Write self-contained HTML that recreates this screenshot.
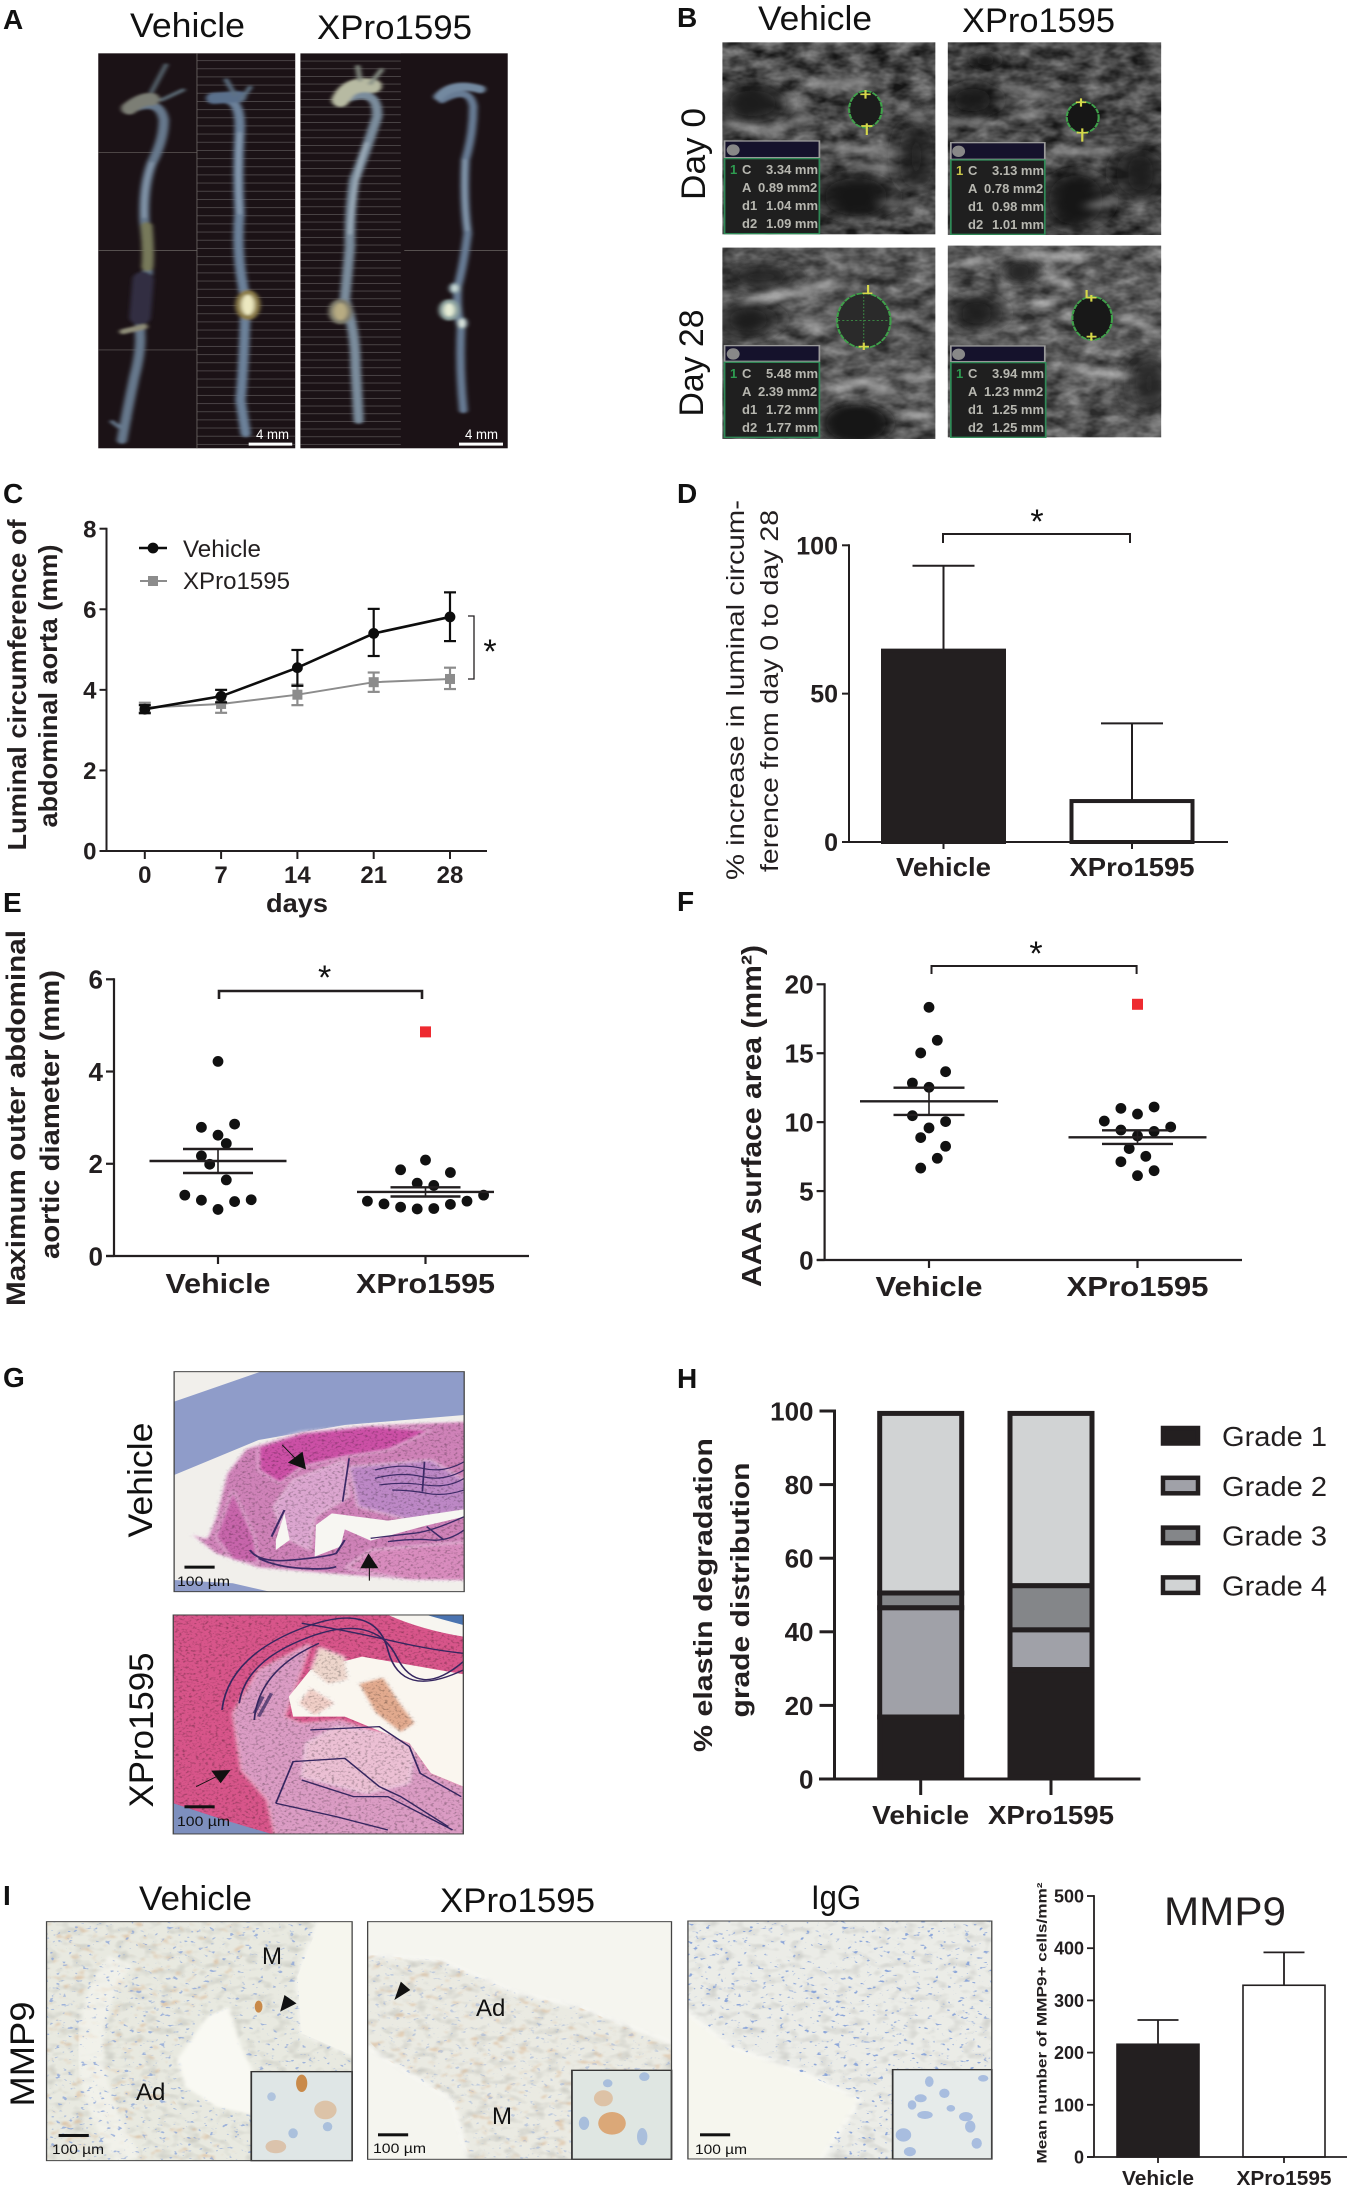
<!DOCTYPE html>
<html lang="en">
<head>
<meta charset="utf-8">
<title>XPro1595 aortic aneurysm figure</title>
<style>
html,body{margin:0;padding:0;background:#fff;}
svg{display:block;font-family:"Liberation Sans",sans-serif;}
.pl{font-weight:bold;font-size:28px;fill:#111;}
.ttl{font-size:34px;fill:#111;}
.sb{font-size:14px;fill:#111;}
.sbw{font-size:14px;fill:#fff;}
.ib{font-size:13px;font-weight:bold;fill:#b7b7b0;}
.mk{font-size:24px;fill:#111;}
</style>
</head>
<body>
<svg id="fig" xmlns="http://www.w3.org/2000/svg" width="1350" height="2187" viewBox="0 0 1350 2187">
<defs>
<filter id="blur1" x="-30%" y="-10%" width="160%" height="120%"><feGaussianBlur stdDeviation="5 3"/></filter>
<filter id="blur2" x="-60%" y="-60%" width="220%" height="220%"><feGaussianBlur stdDeviation="16 10"/></filter>
<filter id="blur3" x="-60%" y="-60%" width="220%" height="220%"><feGaussianBlur stdDeviation="28 20"/></filter>
<filter id="us" color-interpolation-filters="sRGB" x="0" y="0" width="100%" height="100%">
<feTurbulence type="fractalNoise" baseFrequency=".02 .028" numOctaves="3" seed="4"/>
<feColorMatrix values="1.05 0 0 0 -.2 1.05 0 0 0 -.2 1.05 0 0 0 -.2 0 0 0 0 1"/>
<feComposite in2="SourceAlpha" operator="in"/>
</filter>
<filter id="mottle" color-interpolation-filters="sRGB" x="-5%" y="-5%" width="110%" height="110%">
<feGaussianBlur in="SourceGraphic" stdDeviation="5" result="b"/>
<feTurbulence type="fractalNoise" baseFrequency=".13 .16" numOctaves="2" seed="9" result="n"/>
<feColorMatrix in="n" values=".9 0 0 0 .55 .9 0 0 0 .55 .9 0 0 0 .55 0 0 0 0 1" result="g"/>
<feBlend in="b" in2="g" mode="multiply" result="m"/>
<feComposite in="m" in2="b" operator="in"/>
</filter>
<filter id="paper" color-interpolation-filters="sRGB" x="-5%" y="-5%" width="110%" height="110%">
<feGaussianBlur in="SourceGraphic" stdDeviation="7" result="b"/>
<feTurbulence type="fractalNoise" baseFrequency=".03 .04" numOctaves="2" seed="12" result="n"/>
<feColorMatrix in="n" values=".3 0 0 0 .85 .3 0 0 0 .85 .3 0 0 0 .85 0 0 0 0 1" result="g"/>
<feBlend in="b" in2="g" mode="multiply" result="m"/>
<feComposite in="m" in2="b" operator="in"/>
</filter>
<filter id="cellsBlue" color-interpolation-filters="sRGB" x="0" y="0" width="100%" height="100%">
<feTurbulence type="fractalNoise" baseFrequency=".07 .1" numOctaves="2" seed="7"/>
<feColorMatrix values="0 0 0 0 .55 0 0 0 0 .65 0 0 0 0 .85 10 0 0 0 -6.6"/>
<feComposite in2="SourceAlpha" operator="in"/>
</filter>
<filter id="cellsBrown" color-interpolation-filters="sRGB" x="0" y="0" width="100%" height="100%">
<feTurbulence type="fractalNoise" baseFrequency=".035 .05" numOctaves="2" seed="21"/>
<feColorMatrix values="0 0 0 0 .85 0 0 0 0 .7 0 0 0 0 .55 5 0 0 0 -3"/>
<feGaussianBlur stdDeviation="2"/>
<feComposite in2="SourceAlpha" operator="in"/>
</filter>
<pattern id="scanA" patternUnits="userSpaceOnUse" width="100" height="24.5" y="205"><rect width="100" height="2.4" fill="#8d8a8a"/></pattern>
<pattern id="scanB" patternUnits="userSpaceOnUse" width="100" height="23" y="205"><rect width="100" height="2.4" fill="#8d8a8a"/></pattern>
<clipPath id="cB1"><rect x="110" y="127" width="494" height="576"/></clipPath>
<clipPath id="cB2"><rect x="633" y="127" width="495" height="578"/></clipPath>
<clipPath id="cB3"><rect x="110" y="743" width="494" height="574"/></clipPath>
<clipPath id="cB4"><rect x="633" y="737" width="495" height="575"/></clipPath>
<clipPath id="cG1"><rect x="404" y="65" width="673" height="660"/></clipPath>
<clipPath id="cG2"><rect x="402" y="795" width="673" height="657"/></clipPath>
<clipPath id="cI1"><rect x="108" y="185" width="709" height="717"/></clipPath>
<clipPath id="cI2"><rect x="853" y="185" width="705" height="713"/></clipPath>
<clipPath id="cI3"><rect x="30" y="183" width="705" height="714"/></clipPath>
</defs>
<rect width="1350" height="2187" fill="#fff"/>

<!-- Panel letters -->
<text class="pl" x="3" y="29">A</text>
<text class="pl" x="677" y="27">B</text>
<text class="pl" x="3" y="503">C</text>
<text class="pl" x="677" y="503">D</text>
<text class="pl" x="3" y="912">E</text>
<text class="pl" x="677" y="911">F</text>
<text class="pl" x="3" y="1387">G</text>
<text class="pl" x="677" y="1388">H</text>
<text class="pl" x="3" y="1905">I</text>

<!-- Panel A -->
<text class="ttl" x="130" y="37" textLength="115" lengthAdjust="spacingAndGlyphs">Vehicle</text>
<text class="ttl" x="317" y="39" textLength="155" lengthAdjust="spacingAndGlyphs">XPro1595</text>
<g transform="scale(.431,.3333)">
<rect x="228" y="160" width="457" height="1185" fill="#1b1216"/>
<rect x="697" y="160" width="481" height="1185" fill="#1b1216"/>
<rect x="457" y="160" width="228" height="1185" fill="url(#scanA)" opacity=".5"/>
<rect x="697" y="160" width="233" height="1185" fill="url(#scanB)" opacity=".5"/>
<path d="M228,458H457M228,752H457M228,1050H457M938,752H1178M457,160V1345" stroke="#6a6462" stroke-width="2" fill="none"/>
<g fill="none" stroke-linecap="round" stroke-linejoin="round" filter="url(#blur1)">
<path d="M320,320 Q372,300 380,360 Q380,420 352,490 Q332,560 335,660 Q345,760 342,830 Q325,920 325,1000 Q328,1050 312,1130 Q297,1220 283,1320" stroke="#66788c" stroke-width="24"/>
<path d="M352,490 Q332,560 335,650" stroke="#8a9cb0" stroke-width="8"/>
<path d="M340,680 Q345,760 342,800" stroke="#77795a" stroke-width="28"/>
<path d="M332,840 L325,950" stroke="#322d42" stroke-width="50"/>
<path d="M285,995 L335,980" stroke="#8e8c78" stroke-width="16"/>
<path d="M300,325 Q330,295 352,298" stroke="#7c7e74" stroke-width="38"/>
<path d="M352,275 L385,195 M375,300 L425,270" stroke="#5c6a74" stroke-width="10"/>
<path d="M260,1265 L285,1290 L300,1255" stroke="#66788c" stroke-width="10"/>
<path d="M530,300 Q560,310 556,400 Q550,520 556,640 Q546,760 570,900 Q566,1100 558,1200 L570,1300" stroke="#6c819a" stroke-width="24"/>
<path d="M556,400 Q550,520 556,640" stroke="#93a6ba" stroke-width="7"/>
<path d="M495,295 L555,290" stroke="#5a6f8c" stroke-width="34"/>
<path d="M525,240 L545,285 M580,262 L560,300" stroke="#5f7284" stroke-width="11"/>
<ellipse cx="575" cy="915" rx="22" ry="38" fill="#ece8c0" stroke="#8c7d48" stroke-width="14"/>
<path d="M795,300 Q878,255 875,350 Q850,450 822,540 Q810,640 812,740 Q805,830 800,900 Q825,990 825,1100 L832,1260" stroke="#7a8c9c" stroke-width="24"/>
<path d="M850,430 Q820,540 812,700" stroke="#a8b8c4" stroke-width="7"/>
<path d="M790,300 Q810,245 865,258" stroke="#b7baa2" stroke-width="42"/>
<path d="M830,200 L835,240 M885,210 L860,250" stroke="#889086" stroke-width="11"/>
<ellipse cx="790" cy="935" rx="22" ry="32" fill="#b8ac82" stroke="#7e7c6c" stroke-width="12"/>
<path d="M1025,300 Q1090,255 1098,320 Q1098,400 1080,480 Q1075,600 1085,700 Q1075,800 1062,860 Q1058,930 1070,980 Q1065,1100 1075,1230" stroke="#677c94" stroke-width="20"/>
<path d="M1078,480 Q1075,600 1085,690" stroke="#92a6b8" stroke-width="6"/>
<path d="M1018,290 Q1050,245 1115,268" stroke="#7389a0" stroke-width="24"/>
<ellipse cx="1042" cy="930" rx="18" ry="26" fill="#e6edd6" stroke="#8ea4a0" stroke-width="12"/>
<ellipse cx="1055" cy="865" rx="10" ry="14" fill="#cfe0dc" stroke="#8298a2" stroke-width="7"/>
<ellipse cx="1072" cy="970" rx="10" ry="16" fill="#dfe8e0" stroke="#8298a2" stroke-width="6"/>
</g>
<rect x="577" y="1328" width="101" height="9" fill="#fff"/>
<rect x="1065" y="1328" width="102" height="9" fill="#fff"/>
</g>
<text class="sbw" x="256" y="439" textLength="33" lengthAdjust="spacingAndGlyphs">4 mm</text>
<text class="sbw" x="465" y="439" textLength="33" lengthAdjust="spacingAndGlyphs">4 mm</text>

<!-- Panel B -->
<text class="ttl" x="758" y="30" textLength="114" lengthAdjust="spacingAndGlyphs">Vehicle</text>
<text class="ttl" x="962" y="32" textLength="153" lengthAdjust="spacingAndGlyphs">XPro1595</text>
<text class="ttl" transform="translate(705,154) rotate(-90)" text-anchor="middle" textLength="92" lengthAdjust="spacingAndGlyphs">Day 0</text>
<text class="ttl" transform="translate(703,363) rotate(-90)" text-anchor="middle" textLength="107" lengthAdjust="spacingAndGlyphs">Day 28</text>
<g transform="translate(675,0) scale(.431,.3333)">
<rect x="110" y="127" width="494" height="576" fill="#000" filter="url(#us)"/>
<rect x="633" y="127" width="495" height="578" fill="#000" filter="url(#us)"/>
<rect x="110" y="743" width="494" height="574" fill="#000" filter="url(#us)"/>
<rect x="633" y="737" width="495" height="575" fill="#000" filter="url(#us)"/>
<g clip-path="url(#cB1)">
<rect x="110" y="127" width="494" height="576" fill="#3c3c3c" opacity=".35"/>
<ellipse cx="180" cy="310" rx="80" ry="60" fill="#1c1c1c" filter="url(#blur3)"/>
<ellipse cx="420" cy="590" rx="90" ry="70" fill="#191919" filter="url(#blur3)"/>
<ellipse cx="560" cy="470" rx="40" ry="110" fill="#1e1e1e" filter="url(#blur3)"/>
<path d="M110,370 L230,395 L300,350 M270,280 L300,370 M300,250 L460,250 M360,440 L520,460" stroke="#a4a4a4" stroke-width="22" fill="none" opacity=".8" filter="url(#blur2)"/>
<path d="M400,490 L520,510 M480,610 L560,610 M540,340 L590,370" stroke="#8a8a8a" stroke-width="22" fill="none" opacity=".7" filter="url(#blur2)"/>
<ellipse cx="442" cy="328" rx="38" ry="55" fill="#1c1c1c" stroke="#3fa04a" stroke-width="5" stroke-dasharray="14 3"/>
<path d="M442,270V296M430,283H454M445,370V405M432,378H458" stroke="#d6d84a" stroke-width="5"/>
</g>
<g clip-path="url(#cB2)">
<rect x="633" y="127" width="495" height="578" fill="#3a3a3a" opacity=".4"/>
<ellipse cx="690" cy="300" rx="60" ry="50" fill="#181818" filter="url(#blur3)"/>
<ellipse cx="720" cy="180" rx="30" ry="25" fill="#181818" filter="url(#blur2)"/>
<ellipse cx="930" cy="600" rx="80" ry="90" fill="#191919" filter="url(#blur3)"/>
<ellipse cx="1080" cy="520" rx="55" ry="80" fill="#1b1b1b" filter="url(#blur3)"/>
<path d="M780,265 L890,295 M640,365 L720,365 M880,455 L1020,455 M790,345 L850,345 M960,620 L1030,600" stroke="#a0a0a0" stroke-width="20" fill="none" opacity=".75" filter="url(#blur2)"/>
<ellipse cx="946" cy="352" rx="37" ry="47" fill="#161616" stroke="#3fa04a" stroke-width="5" stroke-dasharray="14 3"/>
<path d="M942,295V320M930,307H954M945,385V425M932,398H958" stroke="#d6d84a" stroke-width="5"/>
</g>
<g clip-path="url(#cB3)">
<rect x="110" y="743" width="494" height="574" fill="#5a5a5a" opacity=".45"/>
<ellipse cx="200" cy="830" rx="80" ry="35" fill="#202020" filter="url(#blur3)"/>
<ellipse cx="170" cy="960" rx="70" ry="55" fill="#1f1f1f" filter="url(#blur3)"/>
<ellipse cx="420" cy="1270" rx="80" ry="60" fill="#161616" filter="url(#blur2)"/>
<path d="M160,900 L280,880 L380,840 M300,940 L340,1000 M380,1170 L430,1140 L500,1180 M520,1125 L570,1135 M530,1245 L590,1250" stroke="#d2d2d2" stroke-width="20" fill="none" opacity=".85" filter="url(#blur2)"/>
<ellipse cx="438" cy="962" rx="62" ry="82" fill="#2a2a2a" stroke="#3fa04a" stroke-width="5" stroke-dasharray="14 3"/>
<path d="M378,962H500M438,880V1040" stroke="#3fa04a" stroke-width="2" stroke-dasharray="5 5"/>
<path d="M448,855V882M435,880H458M438,1028V1050M426,1040H450" stroke="#d6d84a" stroke-width="5"/>
</g>
<g clip-path="url(#cB4)">
<rect x="633" y="737" width="495" height="575" fill="#666" opacity=".42"/>
<ellipse cx="800" cy="815" rx="40" ry="35" fill="#262626" filter="url(#blur2)"/>
<ellipse cx="700" cy="940" rx="60" ry="55" fill="#1f1f1f" filter="url(#blur3)"/>
<ellipse cx="1100" cy="1150" rx="45" ry="90" fill="#262626" filter="url(#blur3)"/>
<path d="M660,795 L720,780 M800,765 L950,770 M860,830 L920,860 M830,915 L880,910 M920,1105 L1040,1130 M1030,940 L1120,1000" stroke="#e0e0e0" stroke-width="16" fill="none" opacity=".85" filter="url(#blur2)"/>
<ellipse cx="968" cy="955" rx="46" ry="65" fill="#181818" stroke="#3fa04a" stroke-width="5" stroke-dasharray="14 3"/>
<path d="M955,870V895M966,885V905M955,893H978M966,998V1022M955,1010H978" stroke="#d6d84a" stroke-width="5"/>
</g>
<!-- info boxes -->
<g stroke-width="4">
<rect x="115" y="423" width="220" height="50" fill="#15122c" stroke="#9a9a9a"/>
<rect x="115" y="476" width="220" height="225" fill="#1f1f1f" stroke="#2f8a57"/>
<ellipse cx="135" cy="450" rx="15" ry="17" fill="#888" stroke="none"/>
<rect x="640" y="428" width="218" height="50" fill="#15122c" stroke="#9a9a9a"/>
<rect x="640" y="480" width="218" height="223" fill="#1f1f1f" stroke="#2f8a57"/>
<ellipse cx="658" cy="454" rx="15" ry="17" fill="#888" stroke="none"/>
<rect x="115" y="1037" width="220" height="47" fill="#15122c" stroke="#9a9a9a"/>
<rect x="115" y="1087" width="220" height="225" fill="#1f1f1f" stroke="#2f8a57"/>
<ellipse cx="135" cy="1062" rx="15" ry="17" fill="#888" stroke="none"/>
<rect x="640" y="1038" width="218" height="47" fill="#15122c" stroke="#9a9a9a"/>
<rect x="640" y="1088" width="220" height="224" fill="#1f1f1f" stroke="#2f8a57"/>
<ellipse cx="658" cy="1063" rx="15" ry="17" fill="#888" stroke="none"/>
</g>
</g>
<g>
<text class="ib" x="730" y="174" style="fill:#2e9b50">1</text>
<text class="ib" y="174"><tspan x="742">C</tspan><tspan x="766">3.34 mm</tspan></text>
<text class="ib" y="192"><tspan x="742">A</tspan><tspan x="758">0.89 mm2</tspan></text>
<text class="ib" y="210"><tspan x="742">d1</tspan><tspan x="766">1.04 mm</tspan></text>
<text class="ib" y="228"><tspan x="742">d2</tspan><tspan x="766">1.09 mm</tspan></text>
</g>
<g>
<text class="ib" x="956" y="175" style="fill:#c9c64a">1</text>
<text class="ib" y="175"><tspan x="968">C</tspan><tspan x="992">3.13 mm</tspan></text>
<text class="ib" y="193"><tspan x="968">A</tspan><tspan x="984">0.78 mm2</tspan></text>
<text class="ib" y="211"><tspan x="968">d1</tspan><tspan x="992">0.98 mm</tspan></text>
<text class="ib" y="229"><tspan x="968">d2</tspan><tspan x="992">1.01 mm</tspan></text>
</g>
<g>
<text class="ib" x="730" y="378" style="fill:#2e9b50">1</text>
<text class="ib" y="378"><tspan x="742">C</tspan><tspan x="766">5.48 mm</tspan></text>
<text class="ib" y="396"><tspan x="742">A</tspan><tspan x="758">2.39 mm2</tspan></text>
<text class="ib" y="414"><tspan x="742">d1</tspan><tspan x="766">1.72 mm</tspan></text>
<text class="ib" y="432"><tspan x="742">d2</tspan><tspan x="766">1.77 mm</tspan></text>
</g>
<g>
<text class="ib" x="956" y="378" style="fill:#2e9b50">1</text>
<text class="ib" y="378"><tspan x="968">C</tspan><tspan x="992">3.94 mm</tspan></text>
<text class="ib" y="396"><tspan x="968">A</tspan><tspan x="984">1.23 mm2</tspan></text>
<text class="ib" y="414"><tspan x="968">d1</tspan><tspan x="992">1.25 mm</tspan></text>
<text class="ib" y="432"><tspan x="968">d2</tspan><tspan x="992">1.25 mm</tspan></text>
</g>

<!-- Panel G -->
<text class="ttl" transform="translate(152,1480) rotate(-90)" text-anchor="middle" textLength="115" lengthAdjust="spacingAndGlyphs">Vehicle</text>
<text class="ttl" transform="translate(153,1730) rotate(-90)" text-anchor="middle" textLength="155" lengthAdjust="spacingAndGlyphs">XPro1595</text>
<g transform="translate(0,1350) scale(.431,.3333)">
<g clip-path="url(#cG1)">
<rect x="404" y="65" width="673" height="660" fill="#f1efeb"/>
<path d="M404,155 L605,65 H1077 V195 L800,225 L600,270 L404,375Z" fill="#8f9cc9"/>
<path d="M404,690 L540,700 L625,725 H404Z" fill="#8f9cc9"/>
<path d="M440,550 L480,565 L500,500 L525,370 L570,295 L700,245 L850,225 L1100,212 V692 L950,690 L760,672 L600,655 L500,612Z" fill="#cf82b8" filter="url(#mottle)"/>
<path d="M600,290 L700,250 L860,228 L1000,240 L900,300 L800,320 L700,350 L650,400 L600,360Z" fill="#cc4ba5" filter="url(#mottle)" opacity=".9"/>
<path d="M500,560 L540,420 L590,560 L600,640 L540,630Z" fill="#c65ea8" filter="url(#mottle)" opacity=".8"/>
<path d="M635,470 L680,390 L800,330 L810,440 L730,500 L720,600 L660,560Z" fill="#dca6d0" filter="url(#mottle)"/>
<path d="M810,350 L1000,330 L1090,400 V480 L950,510 L830,470Z" fill="#bd88c6" filter="url(#mottle)"/>
<path d="M860,600 L1090,575 V692 L950,690 L800,655Z" fill="#d98cbe" filter="url(#mottle)"/>
<path d="M730,620 L733,525 L770,490 L900,512 L1077,478 V500 L985,528 L860,572 L800,538 L790,590Z" fill="#f7f6f2"/>
<path d="M640,570 L660,490 L672,570 L640,600Z" fill="#f7f6f2"/>
<g fill="none" stroke="#3c2a66" stroke-width="3.5">
<path d="M870,360 Q930,340 980,355 T1077,335"/><path d="M870,385 Q930,365 980,380 T1077,360"/><path d="M880,405 Q930,395 985,405 T1077,385"/><path d="M910,420 Q950,420 990,430 T1077,420"/>
<path d="M810,325 L795,455 M985,335 L980,425" stroke-width="4"/>
<path d="M580,600 Q600,640 680,630 T780,610 L800,570 M600,625 Q640,650 700,655 T780,650" stroke-width="5"/>
<path d="M860,565 Q920,555 960,550 T1077,500 M900,575 Q960,565 1000,570 T1077,540 M990,530 L1030,570" stroke-width="4"/>
<path d="M630,560 L660,480" stroke-width="5"/>
</g>
<path d="M655,285 L700,345" stroke="#111" stroke-width="2.5"/><path d="M710,358 L668,338 L702,305Z" fill="#111"/>
<path d="M857,692 V650" stroke="#111" stroke-width="2.5"/><path d="M855,610 L878,655 L836,655Z" fill="#111"/>
<rect x="428" y="647" width="70" height="9" fill="#111"/>
</g>
<rect x="404" y="65" width="673" height="660" fill="none" stroke="#444" stroke-width="3"/>
</g>
<g transform="translate(0,1350) scale(.431,.3333)">
<g clip-path="url(#cG2)">
<rect x="402" y="795" width="673" height="657" fill="#d65085"/>
<rect x="382" y="775" width="713" height="697" fill="#d8558a" filter="url(#mottle)"/>
<path d="M402,1360 L520,1410 L630,1452 H402Z" fill="#7d8fbe"/>
<path d="M900,795 H1075 V860 Q980,840 900,795Z" fill="#f7f5f0"/>
<path d="M990,795 H1075 V825 Q1030,810 990,795Z" fill="#4a73b0"/>
<path d="M540,1090 L600,960 L720,880 L700,960 L660,1100 L700,1120 L790,1110 L950,1180 L1000,1270 L1095,1320 V1470 L640,1470 L620,1350 L560,1260Z" fill="#db9cc4" filter="url(#mottle)"/>
<path d="M840,920 L1085,975 V1315 L1000,1270 L950,1180 L800,1100 L680,1100 L670,1040 L720,960Z" fill="#faf6ef"/>
<path d="M740,890 L800,920 L810,990 L760,1005 L720,960Z" fill="#eed6cc" filter="url(#mottle)"/>
<path d="M830,1000 L890,980 L930,1060 L965,1120 L930,1150 L870,1090Z" fill="#e2aa8e" filter="url(#mottle)"/>
<path d="M720,1010 L780,1060 L730,1100 L690,1060Z" fill="#f0cec6" filter="url(#mottle)"/>
<path d="M710,1180 L780,1130 L900,1150 L960,1200 L950,1300 L850,1330 L700,1280Z" fill="#ecc0d4" filter="url(#mottle)"/>
<g fill="none" stroke="#35265f" stroke-width="4">
<path d="M515,1080 Q530,920 700,835 T900,900 T1075,960"/><path d="M555,1060 Q570,930 720,860 T920,920 T1075,935"/><path d="M590,1110 Q600,960 740,880"/><path d="M700,820 Q800,840 900,870 T1075,910" />
<path d="M640,1360 L680,1235 L800,1225 L880,1310 L930,1340 L1040,1430"/><path d="M640,1360 L780,1400 L900,1440"/><path d="M700,1290 L820,1340 L900,1340 L1050,1440"/>
<path d="M720,1140 L880,1130 L950,1190 L975,1270 L1070,1340"/>
<path d="M590,1090 L610,1040 M600,1100 L630,1030" stroke-width="8" opacity=".7"/>
</g>
<path d="M455,1310 L510,1275" stroke="#111" stroke-width="2.5"/><path d="M535,1260 L512,1300 L490,1262Z" fill="#111"/>
<rect x="428" y="1366" width="70" height="9" fill="#111"/>
</g>
<rect x="402" y="795" width="673" height="657" fill="none" stroke="#444" stroke-width="3"/>
</g>
<text class="sb" x="177" y="1586" textLength="53" lengthAdjust="spacingAndGlyphs">100 µm</text>
<text class="sb" x="177" y="1826" textLength="53" lengthAdjust="spacingAndGlyphs">100 µm</text>

<!-- Panel I -->
<text class="ttl" x="139" y="1910" textLength="113" lengthAdjust="spacingAndGlyphs">Vehicle</text>
<text class="ttl" x="440" y="1912" textLength="155" lengthAdjust="spacingAndGlyphs">XPro1595</text>
<text class="ttl" x="811" y="1909" textLength="50" lengthAdjust="spacingAndGlyphs">IgG</text>
<text class="ttl" transform="translate(34,2054) rotate(-90)" text-anchor="middle" textLength="105" lengthAdjust="spacingAndGlyphs">MMP9</text>
<g transform="translate(0,1860) scale(.431,.3333)">
<rect x="108" y="185" width="709" height="717" fill="#f4f4ec"/>
<g clip-path="url(#cI1)">
<path d="M90,165 H745 L690,350 L700,520 L830,590 V920 H90Z" fill="#e8e9e0" filter="url(#paper)"/>
<path d="M108,185 H600 L520,400 L420,520 L370,660 L440,790 L580,900 H108Z" fill="#000" filter="url(#cellsBrown)" opacity=".55"/>
<path d="M280,300 Q130,560 300,900" stroke="#f6f6f0" stroke-width="62" fill="none" opacity=".65" filter="url(#blur1)"/>
<path d="M108,185 H740 L690,350 L700,520 L817,590 V900 H108Z" fill="#000" filter="url(#cellsBlue)" opacity=".8"/>
<path d="M410,600 L480,470 L530,440 L560,560 L590,640 V765 L500,740 L430,680Z" fill="#f9f9f3" filter="url(#blur1)"/>
<path d="M745,175 H825 V590 L700,520 L690,350Z" fill="#f6f6ee"/>
</g>
<rect x="583" y="635" width="234" height="267" fill="#dfe6e6" stroke="#333" stroke-width="4"/>
<ellipse cx="700" cy="670" rx="13" ry="26" fill="#c98a4a"/>
<ellipse cx="755" cy="750" rx="26" ry="28" fill="#dcc3a8"/>
<ellipse cx="680" cy="820" rx="11" ry="15" fill="#aac0dc"/><ellipse cx="760" cy="800" rx="11" ry="14" fill="#aac0dc"/><ellipse cx="630" cy="710" rx="10" ry="13" fill="#b0c4de"/><ellipse cx="640" cy="860" rx="24" ry="20" fill="#dbc3ac"/>
<path d="M650,455 L660,405 L688,430Z" fill="#111"/>
<ellipse cx="600" cy="440" rx="9" ry="18" fill="#c98a4a"/>
<rect x="136" y="822" width="70" height="9" fill="#111"/>
<rect x="108" y="185" width="709" height="717" fill="none" stroke="#444" stroke-width="3"/>
</g>
<text class="mk" x="262" y="1964">M</text>
<text class="mk" x="136" y="2100">Ad</text>
<text class="sb" x="52" y="2154" textLength="52" lengthAdjust="spacingAndGlyphs">100 µm</text>
<g transform="translate(0,1860) scale(.431,.3333)">
<rect x="853" y="185" width="705" height="713" fill="#f5f5ef"/>
<g clip-path="url(#cI2)">
<path d="M830,285 L1020,300 L1200,400 L1340,440 L1580,560 V920 H1090 L1050,720 L900,600 L830,540Z" fill="#eaeae2" filter="url(#paper)"/>
<path d="M853,285 L1020,300 L1200,400 L1340,440 L1558,560 V900 H1090 L1050,720 L900,600 L853,540Z" fill="#000" filter="url(#cellsBrown)" opacity=".5"/>
<path d="M853,285 L1020,300 L1200,400 L1340,440 L1558,560 V900 H1090 L1050,720 L900,600 L853,540Z" fill="#000" filter="url(#cellsBlue)" opacity=".45"/>
</g>
<rect x="1327" y="631" width="231" height="267" fill="#dfe6e2" stroke="#333" stroke-width="4"/>
<ellipse cx="1420" cy="790" rx="32" ry="34" fill="#dba878"/><ellipse cx="1400" cy="715" rx="22" ry="24" fill="#ddc2a6"/>
<ellipse cx="1355" cy="790" rx="12" ry="20" fill="#a8bedc"/><ellipse cx="1495" cy="650" rx="12" ry="13" fill="#a8bedc"/><ellipse cx="1490" cy="830" rx="12" ry="26" fill="#aabfdc"/><ellipse cx="1410" cy="670" rx="11" ry="12" fill="#a8bedc"/>
<path d="M915,420 L930,365 L952,390Z" fill="#111"/>
<rect x="877" y="820" width="70" height="9" fill="#111"/>
<rect x="853" y="185" width="705" height="713" fill="none" stroke="#444" stroke-width="3"/>
</g>
<text class="mk" x="476" y="2016">Ad</text>
<text class="mk" x="492" y="2124">M</text>
<text class="sb" x="373" y="2153" textLength="53" lengthAdjust="spacingAndGlyphs">100 µm</text>
<g transform="translate(675,1860) scale(.431,.3333)">
<rect x="30" y="183" width="705" height="714" fill="#f6f6ee"/>
<g clip-path="url(#cI3)">
<path d="M10,165 H750 V915 H330 L430,720 L300,640 L130,560 L10,440Z" fill="#ebece7" filter="url(#paper)"/>
<path d="M30,183 H735 V897 H330 L430,720 L300,640 L130,560 L30,440Z" fill="#000" filter="url(#cellsBlue)"/>
</g>
<rect x="505" y="629" width="230" height="268" fill="#e6ebea" stroke="#333" stroke-width="4"/>
<g fill="#a8bddf"><ellipse cx="590" cy="665" rx="10" ry="16"/><ellipse cx="625" cy="700" rx="12" ry="14"/><ellipse cx="570" cy="715" rx="14" ry="12"/><ellipse cx="550" cy="735" rx="10" ry="14"/><ellipse cx="580" cy="765" rx="18" ry="12"/><ellipse cx="675" cy="770" rx="16" ry="14"/><ellipse cx="685" cy="800" rx="12" ry="18"/><ellipse cx="530" cy="825" rx="18" ry="20"/><ellipse cx="700" cy="850" rx="12" ry="16"/><ellipse cx="545" cy="875" rx="14" ry="14"/><ellipse cx="715" cy="655" rx="12" ry="10"/><ellipse cx="640" cy="745" rx="10" ry="10"/></g>
<rect x="58" y="820" width="70" height="9" fill="#111"/>
<rect x="30" y="183" width="705" height="714" fill="none" stroke="#444" stroke-width="3"/>
</g>
<text class="sb" x="695" y="2154" textLength="52" lengthAdjust="spacingAndGlyphs">100 µm</text>

<g id="chart-c"></g>
<g id="chart-d"></g>
<g id="chart-e"></g>
<g id="chart-f"></g>
<g id="chart-h"></g>
<g id="chart-i"></g>
</svg>

<script>
// ---- Chart C data ----
const cDays = [0, 7, 14, 21, 28];
const cYTicks = [0, 2, 4, 6, 8];
const cVehicleMean = [3.52, 3.84, 4.55, 5.40, 5.81];
const cVehicleHigh = [3.62, 4.00, 4.99, 6.01, 6.42];
const cVehicleLow = [3.42, 3.69, 4.10, 4.84, 5.21];
const cXProMean = [3.56, 3.65, 3.88, 4.19, 4.27];
const cXProHigh = [3.68, 3.85, 4.13, 4.43, 4.55];
const cXProLow = [3.44, 3.43, 3.62, 3.95, 4.02];
// ---- Chart D data ----
const dCategories = ['Vehicle', 'XPro1595'];
const dYTicks = [0, 50, 100];
const dMeans = [64.5, 13.8];
const dErrorTops = [93.1, 40];
// ---- Chart E data ----
const eCategories = ['Vehicle', 'XPro1595'];
const eYTicks = [0, 2, 4, 6];
const eVehicleValues = [4.22, 2.79, 2.86, 2.62, 2.44, 2.17, 1.99, 1.65, 1.32, 1.21, 1.18, 1.22, 1.01];
const eVehicleColumns = [0, -1, 1, 0, 0.5, -1, -0.5, 0.5, -2, -1, 1, 2, 0];
const eXProValues = [2.08, 1.87, 1.81, 1.58, 1.53, 1.32, 1.19, 1.13, 1.06, 1.02, 1.03, 1.12, 1.19];
const eXProColumns = [0, -1.5, 1.5, -0.5, 0.5, 3.5, -3.5, -2.5, -1.5, -0.5, 0.5, 1.5, 2.5];
const eOutlier = 4.86;
const eGroupMeans = [2.06, 1.39];
const eSemHigh = [2.32, 1.49];
const eSemLow = [1.80, 1.29];
// ---- Chart F data ----
const fCategories = ['Vehicle', 'XPro1595'];
const fYTicks = [0, 5, 10, 15, 20];
const fVehicleValues = [18.33, 15.94, 15.02, 13.66, 12.84, 12.53, 10.47, 10.04, 9.58, 8.88, 8.25, 7.38, 6.67];
const fVehicleColumns = [0, 0.5, -0.5, 1, -1, 0, -1, 1, 0, -0.5, 1, 0.5, -0.5];
const fXProValues = [11.1, 11.0, 10.59, 10.08, 9.65, 9.43, 9.33, 9.0, 8.08, 7.52, 7.13, 6.48, 6.12];
const fXProColumns = [1, -1, 0, -2, 2, -1, 1, 0, -0.5, 0.5, -1, 1, 0];
const fOutlier = 18.55;
const fGroupMeans = [11.51, 8.9];
const fSemHigh = [12.5, 9.41];
const fSemLow = [10.52, 8.42];
// ---- Chart H data ----
const hCategories = ['Vehicle', 'XPro1595'];
const hYTicks = [0, 20, 40, 60, 80, 100];
const hGrades = ['Grade 1', 'Grade 2', 'Grade 3', 'Grade 4'];
const hVehicleStack = [17.5, 29.7, 4.0, 48.8];
const hXProStack = [30.4, 10.8, 12.0, 46.8];
// ---- Chart I data ----
const iCategories = ['Vehicle', 'XPro1595'];
const iYTicks = [0, 100, 200, 300, 400, 500];
const iMeans = [216, 329];
const iErrorTops = [262.5, 392];

const NS = 'http://www.w3.org/2000/svg';
const INK = '#231f20';
function add(parent, tag, attrs, text) {
  const node = document.createElementNS(NS, tag);
  for (const k in attrs) node.setAttribute(k, attrs[k]);
  if (text !== undefined) node.textContent = text;
  parent.appendChild(node);
  return node;
}
function linear(d0, d1, r0, r1) {
  return v => r0 + (v - d0) * (r1 - r0) / (d1 - d0);
}
function line(g, name, x1, y1, x2, y2, color, sw) {
  const l = add(g, 'line', { x1, y1, x2, y2, stroke: color, 'stroke-width': sw });
  
  
  return l;
}
function label(g, name, x, y, str, size, opts) {
  const o = opts || {};
  const attrs = { x, y, 'font-size': size, 'font-weight': o.weight || 'bold', fill: INK, 'text-anchor': o.anchor || 'middle' };
  if (o.len) { attrs.textLength = o.len; attrs.lengthAdjust = 'spacingAndGlyphs'; }
  const t = add(g, 'text', attrs, str);
  
  
  return t;
}
function vLabel(g, name, x, cy, str, size, len, weight) {
  const t = add(g, 'text', { transform: 'translate(' + x + ',' + cy + ') rotate(-90)', 'font-size': size, 'font-weight': weight || 'bold', fill: INK, 'text-anchor': 'middle', textLength: len, lengthAdjust: 'spacingAndGlyphs' }, str);
  
  
  return t;
}
function yAxis(g, c) {
  const gap = c.gap === undefined ? 3 : c.gap;
  line(g, 'y-axis-line', c.x, c.scale(c.ticks[c.ticks.length - 1]) - c.sw / 2, c.x, c.scale(c.ticks[0]), INK, c.sw);
  c.ticks.forEach(t => {
    line(g, 'y-axis-tick', c.x - c.tick, c.scale(t), c.x, c.scale(t), INK, c.sw);
    label(g, 'y-tick-label', c.x - c.tick - gap, c.scale(t) + c.font * 0.36, String(t), c.font, { anchor: 'end' });
  });
}
function xAxis(g, c) {
  line(g, 'x-axis-line', c.left, c.y, c.right, c.y, INK, c.sw);
  c.positions.forEach((p, i) => {
    line(g, 'x-axis-tick', p, c.y, p, c.y + c.tick, INK, c.sw);
    label(g, 'x-tick-label', p, c.labelY, c.labels[i], c.font, { len: c.widths ? c.widths[i] : undefined });
  });
}
function bars(g, xs, width, means, tops, y, capW, sw, lineW) {
  means.forEach((m, i) => {
    line(g, 'error-bar-stem', xs[i], y(tops[i]), xs[i], y(m), INK, lineW);
    line(g, 'error-bar-cap', xs[i] - capW, y(tops[i]), xs[i] + capW, y(tops[i]), INK, lineW);
    const b = add(g, 'rect', { x: xs[i] - width / 2 + sw / 2, y: y(m), width: width - sw, height: y(0) - y(m), fill: i === 0 ? INK : '#fff', stroke: INK, 'stroke-width': sw });
    
    
  });
}
function swarm(g, center, unit, values, columns, y) {
  values.forEach((v, i) => {
    const d = add(g, 'circle', { cx: center + columns[i] * unit, cy: y(v), r: 5.4, fill: '#111' });
    
    
  });
}
function meanSem(g, center, halfMean, halfSem, mean, hi, lo, y, sw) {
  line(g, 'mean-line', center - halfMean, y(mean), center + halfMean, y(mean), INK, sw);
  line(g, 'sem-upper-line', center - halfSem, y(hi), center + halfSem, y(hi), INK, sw);
  line(g, 'sem-lower-line', center - halfSem, y(lo), center + halfSem, y(lo), INK, sw);
  line(g, 'sem-stem', center, y(hi), center, y(lo), INK, 1.6);
}
function redSquare(g, x, v, y) {
  const s = add(g, 'rect', { x: x - 5.5, y: y(v) - 5.5, width: 11, height: 11, fill: '#ee2a30' });
  
  
}
function bracket(g, x1, x2, top, bottom, sw) {
  const p = add(g, 'path', { d: 'M' + x1 + ',' + bottom + 'V' + top + 'H' + x2 + 'V' + bottom, fill: 'none', stroke: INK, 'stroke-width': sw });
  
  
}
function star(g, x, y) {
  const s = add(g, 'text', { x, y, 'font-size': 34, 'text-anchor': 'middle', fill: '#111' }, '*');
  
  
}

// ---- Draw chart C ----
(function () {
  const g = document.getElementById('chart-c');
  const y = linear(0, 8, 851, 528.7);
  const x = linear(0, 28, 144.8, 450);
  yAxis(g, { x: 106.5, scale: y, ticks: cYTicks, tick: 7, sw: 2, font: 24 });
  xAxis(g, { left: 100, right: 487, y: 851, tick: 8, sw: 2, positions: cDays.map(x), labels: cDays.map(String), labelY: 883, font: 24 });
  label(g, 'x-axis-title', 297, 912, 'days', 26, { len: 62 });
  vLabel(g, 'y-axis-title-line-1', 26, 685, 'Luminal circumference of', 26, 331);
  vLabel(g, 'y-axis-title-line-2', 57, 686, 'abdominal aorta (mm)', 26, 283);
  function series(mean, hi, lo, color, sw, name, isSquare) {
    const pts = mean.map((m, i) => x(cDays[i]) + ',' + y(m)).join(' ');
    const pl = add(g, 'polyline', { points: pts, fill: 'none', stroke: color, 'stroke-width': sw });
    
    
    mean.forEach((m, i) => {
      const px = x(cDays[i]);
      line(g, name + '-error-stem', px, y(hi[i]), px, y(lo[i]), color, 2.2);
      line(g, name + '-error-cap-high', px - 6, y(hi[i]), px + 6, y(hi[i]), color, 2.2);
      line(g, name + '-error-cap-low', px - 6, y(lo[i]), px + 6, y(lo[i]), color, 2.2);
      let mk;
      if (isSquare) mk = add(g, 'rect', { x: px - 5, y: y(m) - 5, width: 10, height: 10, fill: color });
      else mk = add(g, 'circle', { cx: px, cy: y(m), r: 5.4, fill: color });
      
      
    });
  }
  series(cXProMean, cXProHigh, cXProLow, '#8c8c8c', 2, 'xpro1595', true);
  series(cVehicleMean, cVehicleHigh, cVehicleLow, '#0d0d0d', 2.6, 'vehicle', false);
  line(g, 'legend-vehicle-line', 139, 548, 167, 548, '#0d0d0d', 2.6);
  const lc = add(g, 'circle', { cx: 153, cy: 548, r: 5.4, fill: '#0d0d0d' });
  
  
  label(g, 'legend-vehicle-label', 183, 557, 'Vehicle', 24, { anchor: 'start', weight: 'normal', len: 78 });
  line(g, 'legend-xpro1595-line', 140, 581, 167, 581, '#8c8c8c', 2);
  const ls = add(g, 'rect', { x: 148, y: 576, width: 10, height: 10, fill: '#8c8c8c' });
  
  
  label(g, 'legend-xpro1595-label', 183, 589, 'XPro1595', 24, { anchor: 'start', weight: 'normal', len: 107 });
  const br = add(g, 'path', { d: 'M468,616H474V679H468', fill: 'none', stroke: INK, 'stroke-width': 1.3 });
  
  
  star(g, 490, 663);
})();

// ---- Draw chart D ----
(function () {
  const g = document.getElementById('chart-d');
  const y = linear(0, 100, 842, 545.3);
  const xs = [943.5, 1132];
  yAxis(g, { x: 849, scale: y, ticks: dYTicks, tick: 7, sw: 2, font: 25, gap: 4 });
  bars(g, xs, 125, dMeans, dErrorTops, y, 31, 4, 2);
  xAxis(g, { left: 842, right: 1228, y: 842, tick: 7, sw: 2, positions: xs, labels: dCategories, labelY: 876, font: 26, widths: [95, 125] });
  vLabel(g, 'y-axis-title-line-1', 744, 690, '% increase in luminal circum-', 25, 380, 'normal');
  vLabel(g, 'y-axis-title-line-2', 778, 691, 'ference from day 0 to day 28', 25, 362, 'normal');
  bracket(g, 943, 1130, 534, 543, 2);
  star(g, 1037, 533);
})();

// ---- Draw chart E ----
(function () {
  const g = document.getElementById('chart-e');
  const y = linear(0, 6, 1256, 979.3);
  const xs = [218, 425.5];
  yAxis(g, { x: 114, scale: y, ticks: eYTicks, tick: 8, sw: 2.2, font: 26 });
  swarm(g, xs[0], 16.6, eVehicleValues, eVehicleColumns, y);
  swarm(g, xs[1], 16.6, eXProValues, eXProColumns, y);
  [0, 1].forEach(i => meanSem(g, xs[i], 68.5, 35, eGroupMeans[i], eSemHigh[i], eSemLow[i], y, 2.4));
  redSquare(g, xs[1], eOutlier, y);
  xAxis(g, { left: 106, right: 529, y: 1256, tick: 8, sw: 2.2, positions: xs, labels: eCategories, labelY: 1293, font: 28, widths: [105, 139] });
  vLabel(g, 'y-axis-title-line-1', 25, 1118, 'Maximum outer abdominal', 27, 376);
  vLabel(g, 'y-axis-title-line-2', 59, 1114.5, 'aortic diameter (mm)', 27, 289);
  bracket(g, 219, 422, 991, 999, 2.6);
  star(g, 324.6, 989);
})();

// ---- Draw chart F ----
(function () {
  const g = document.getElementById('chart-f');
  const y = linear(0, 20, 1260, 984.3);
  const xs = [929, 1137.5];
  yAxis(g, { x: 824.6, scale: y, ticks: fYTicks, tick: 8, sw: 2.2, font: 26 });
  swarm(g, xs[0], 16.6, fVehicleValues, fVehicleColumns, y);
  swarm(g, xs[1], 16.6, fXProValues, fXProColumns, y);
  [0, 1].forEach(i => meanSem(g, xs[i], 69, 35.5, fGroupMeans[i], fSemHigh[i], fSemLow[i], y, 2.4));
  redSquare(g, xs[1], fOutlier, y);
  xAxis(g, { left: 817, right: 1242, y: 1260, tick: 8, sw: 2.2, positions: xs, labels: fCategories, labelY: 1296, font: 28, widths: [107, 142] });
  vLabel(g, 'y-axis-title', 761, 1116, 'AAA surface area (mm²)', 28, 342);
  bracket(g, 931.5, 1136.6, 966, 974, 2);
  star(g, 1036, 965);
})();

// ---- Draw chart H ----
(function () {
  const g = document.getElementById('chart-h');
  const y = linear(0, 100, 1779, 1411);
  const xs = [920.7, 1051];
  const fills = [INK, '#a0a1a8', '#848689', '#d1d3d4'];
  const stacks = [hVehicleStack, hXProStack];
  const inset = 2.4;
  stacks.forEach((stack, b) => {
    let acc = 0;
    stack.forEach((v, k) => {
      const top = y(acc + v) + inset;
      const bottom = k === 0 ? y(0) - inset : y(acc) + inset;
      const seg = add(g, 'rect', { x: xs[b] - 41, y: top, width: 82, height: bottom - top, fill: fills[k], stroke: INK, 'stroke-width': 5 });
      
      
      acc += v;
    });
  });
  yAxis(g, { x: 834.5, scale: y, ticks: hYTicks, tick: 15, sw: 3, font: 26, gap: 6 });
  xAxis(g, { left: 819, right: 1140.5, y: 1779, tick: 16, sw: 3, positions: xs, labels: hCategories, labelY: 1824, font: 26, widths: [97, 126] });
  vLabel(g, 'y-axis-title-line-1', 712, 1595, '% elastin degradation', 26, 314);
  vLabel(g, 'y-axis-title-line-2', 749, 1590, 'grade distribution', 26, 255);
  hGrades.forEach((name, k) => {
    const top = 1426 + k * 49.8;
    const sw = add(g, 'rect', { x: 1163, y: top + 2, width: 35, height: 15.5, fill: fills[k], stroke: INK, 'stroke-width': 4.5 });
    
    
    label(g, 'legend-label', 1222, top + 20, name, 28, { anchor: 'start', weight: 'normal', len: 105 });
  });
})();

// ---- Draw chart I ----
(function () {
  const g = document.getElementById('chart-i');
  const y = linear(0, 500, 2157, 1896);
  const xs = [1158, 1284];
  iMeans.forEach((m, i) => {
    line(g, 'error-bar-stem', xs[i], y(iErrorTops[i]), xs[i], y(m), INK, 1.8);
    line(g, 'error-bar-cap', xs[i] - 20.5, y(iErrorTops[i]), xs[i] + 20.5, y(iErrorTops[i]), INK, 1.8);
    const b = add(g, 'rect', { x: xs[i] - 41, y: y(m), width: 82, height: y(0) - y(m), fill: i === 0 ? INK : '#fff', stroke: INK, 'stroke-width': 1.6 });
    
    
  });
  yAxis(g, { x: 1094, scale: y, ticks: iYTicks, tick: 7, sw: 1.8, font: 18 });
  xAxis(g, { left: 1087, right: 1347, y: 2157, tick: 6, sw: 1.8, positions: xs, labels: iCategories, labelY: 2185, font: 20, widths: [72, 95] });
  vLabel(g, 'y-axis-title', 1046.5, 2023, 'Mean number of MMP9+ cells/mm²', 14, 281);
  label(g, 'chart-title', 1225, 1925, 'MMP9', 40, { weight: 'normal', len: 122 });
})();
</script>
</body>
</html>
